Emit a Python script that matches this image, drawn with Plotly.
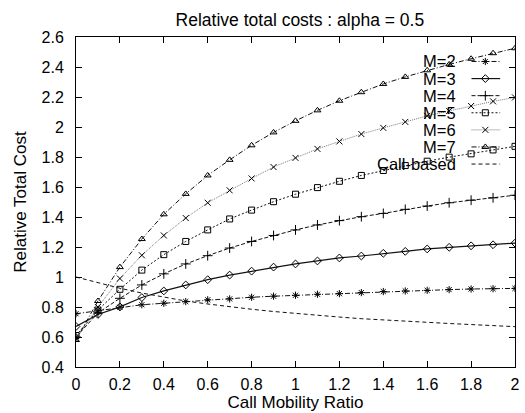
import plotly.graph_objects as go

# Call mobility ratio sampled every 0.1
ratio = [round(0.1 * i, 1) for i in range(21)]

cost_m2 = [0.755, 0.775, 0.798, 0.815, 0.825, 0.836, 0.848, 0.854, 0.865, 0.872, 0.878,
           0.885, 0.889, 0.896, 0.903, 0.907, 0.911, 0.916, 0.920, 0.922, 0.924]
cost_m3 = [0.67, 0.75, 0.801, 0.863, 0.907, 0.947, 0.982, 1.013, 1.039, 1.066, 1.087,
           1.107, 1.127, 1.140, 1.158, 1.171, 1.187, 1.198, 1.208, 1.215, 1.226]
cost_m4 = [0.60, 0.76, 0.858, 0.947, 1.021, 1.087, 1.142, 1.193, 1.237, 1.277, 1.314,
           1.347, 1.376, 1.402, 1.424, 1.451, 1.473, 1.495, 1.512, 1.528, 1.545]
cost_m5 = [0.61, 0.78, 0.918, 1.046, 1.149, 1.237, 1.314, 1.387, 1.446, 1.502, 1.552,
           1.596, 1.638, 1.677, 1.710, 1.743, 1.772, 1.799, 1.821, 1.847, 1.871]
cost_m6 = [0.59, 0.80, 0.990, 1.145, 1.277, 1.393, 1.495, 1.578, 1.657, 1.733, 1.794,
           1.854, 1.904, 1.953, 1.994, 2.034, 2.074, 2.107, 2.140, 2.171, 2.197]
cost_m7 = [0.58, 0.84, 1.066, 1.253, 1.418, 1.554, 1.677, 1.781, 1.878, 1.964, 2.041,
           2.111, 2.175, 2.232, 2.287, 2.334, 2.378, 2.417, 2.455, 2.492, 2.525]
cost_call = [1.00, 0.96, 0.925, 0.893, 0.865, 0.840, 0.820, 0.800, 0.785, 0.770, 0.756,
             0.745, 0.733, 0.722, 0.713, 0.704, 0.697, 0.690, 0.683, 0.676, 0.669]

series_names = ["M=2", "M=3", "M=4", "M=5", "M=6", "M=7", "Call-based"]
series_values = [cost_m2, cost_m3, cost_m4, cost_m5, cost_m6, cost_m7, cost_call]

x_ticks = [0, 0.2, 0.4, 0.6, 0.8, 1, 1.2, 1.4, 1.6, 1.8, 2]
y_ticks = [0.4, 0.6, 0.8, 1, 1.2, 1.4, 1.6, 1.8, 2, 2.2, 2.4, 2.6]

FONT = "Liberation Sans, Arial, Helvetica, sans-serif"

# gnuplot-like line/point styles
styles = [
    dict(dash="5px,2px,1px,2px", color="#111", symbol="asterisk-open", size=6, width=1),
    dict(dash="solid", color="#111", symbol="diamond-open", size=6, width=1.2),
    dict(dash="4px,2px", color="#111", symbol="cross-thin-open", size=7, width=1),
    dict(dash="2px,2px", color="#111", symbol="square-open", size=6, width=1),
    dict(dash="1px,1px", color="#777", symbol="x-thin-open", size=6, width=1),
    dict(dash="5px,2px,1px,2px", color="#111", symbol="triangle-up-open", size=6, width=1),
    dict(dash="4px,3px", color="#111", symbol=None, size=0, width=1),
]

fig = go.Figure()

for name, vals, st in zip(series_names, series_values, styles):
    mode = "lines+markers" if st["symbol"] else "lines"
    marker = dict(symbol=st["symbol"], size=st["size"], color="#000",
                  line=dict(width=1, color="#000")) if st["symbol"] else None
    fig.add_trace(go.Scatter(
        x=ratio, y=vals, name=name, mode=mode,
        line=dict(color=st["color"], width=st["width"], dash=st["dash"]),
        marker=marker, showlegend=False,
    ))

# Key in the upper right: label first, then the line sample (gnuplot layout).
# Overlay axes are in pixel units of the plotting area.
key_text_right = 462.5
key_line = [476, 490, 505]
key_top = 61.7
key_step = 17.25
annotations = []
for i, (name, st) in enumerate(zip(series_names, styles)):
    ky = key_top + key_step * i
    annotations.append(dict(
        x=key_text_right, y=ky, xref="x2", yref="y2", text=name, showarrow=False,
        xanchor="right", yanchor="middle", font=dict(family=FONT, size=16.5, color="#000"),
    ))
    fig.add_trace(go.Scatter(
        x=key_line, y=[ky] * 3, xaxis="x2", yaxis="y2",
        mode="lines+markers" if st["symbol"] else "lines",
        line=dict(color=st["color"], width=st["width"], dash=st["dash"]),
        marker=dict(symbol=st["symbol"] or "circle", size=st["size"] or 1, color="#000",
                    opacity=[0, 1, 0], line=dict(width=1, color="#000")),
        showlegend=False, hoverinfo="skip",
    ))

axis_common = dict(
    showgrid=False, zeroline=False, showline=True, linecolor="#000", linewidth=1,
    mirror="ticks", ticks="inside", ticklen=6, tickcolor="#000", tickwidth=1,
    tickfont=dict(family=FONT, size=16, color="#000"),
)

fig.update_layout(
    width=525, height=413,
    margin=dict(l=76, r=5, t=37, b=43),
    paper_bgcolor="white", plot_bgcolor="white",
    title=dict(text="Relative total costs : alpha = 0.5", x=0.51, xref="paper",
               y=(413 - 20) / 413, yref="container", yanchor="middle",
               font=dict(family=FONT, size=17.5, color="#000")),
    xaxis=dict(range=[0, 2], tickvals=x_ticks,
               title=dict(text="Call Mobility Ratio", standoff=3,
                          font=dict(family=FONT, size=17, color="#000")),
               ticklabelstandoff=3, **axis_common),
    yaxis=dict(range=[0.4, 2.6], tickvals=y_ticks,
               title=dict(text="Relative Total Cost", standoff=10,
                          font=dict(family=FONT, size=17, color="#000")),
               ticklabelstandoff=8, **axis_common),
    xaxis2=dict(range=[76, 520], overlaying="x", visible=False, fixedrange=True),
    yaxis2=dict(range=[370, 37], overlaying="y", visible=False, fixedrange=True),
    annotations=annotations,
)

fig.write_html("out.html")
